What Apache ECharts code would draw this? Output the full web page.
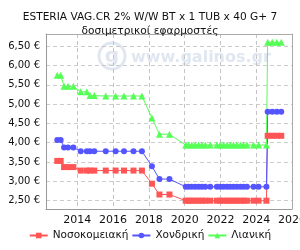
<!DOCTYPE html>
<html><head><meta charset="utf-8">
<script src="https://cdn.jsdelivr.net/npm/echarts@6/dist/echarts.min.js"></script>
<style>html,body{margin:0;padding:0;background:#fff}#c{width:300px;height:250px}</style>
</head><body><div id="c"></div>
<script>
const titleLines = ["ESTERIA VAG.CR 2% W/W BT x 1 TUB x 40 G+ 7", "δοσιμετρικοί εφαρμοστές"];
const seriesNames = ["Νοσοκομειακή", "Χονδρική", "Λιανική"];
const dates = [2012.88, 2013.07, 2013.26, 2013.48, 2013.78, 2014.19, 2014.53, 2014.71, 2014.95, 2015.59,
  2016.14, 2016.61, 2017.14, 2017.61, 2018.17, 2018.59, 2019.15,
  2020.06, 2020.22, 2020.40, 2020.59, 2020.78, 2020.96, 2021.15, 2021.43, 2021.80, 2021.99,
  2022.17, 2022.37, 2022.55, 2022.73, 2022.92, 2023.11, 2023.29, 2023.48, 2023.85, 2024.13, 2024.57,
  2024.64, 2024.90, 2025.15, 2025.40];
const hospital = [3.53, 3.53, 3.37, 3.37, 3.37, 3.28, 3.28, 3.28, 3.28, 3.28,
  3.28, 3.28, 3.28, 3.28, 2.94, 2.66, 2.66,
  2.50, 2.50, 2.50, 2.50, 2.50, 2.50, 2.50, 2.50, 2.50, 2.50,
  2.50, 2.50, 2.50, 2.50, 2.50, 2.50, 2.50, 2.50, 2.50, 2.50, 2.50,
  4.18, 4.18, 4.18, 4.18];
const wholesale = [4.07, 4.07, 3.88, 3.88, 3.88, 3.78, 3.78, 3.78, 3.78, 3.78,
  3.78, 3.78, 3.78, 3.78, 3.39, 3.06, 3.06,
  2.86, 2.86, 2.86, 2.86, 2.86, 2.86, 2.86, 2.86, 2.86, 2.86,
  2.86, 2.86, 2.86, 2.86, 2.86, 2.86, 2.86, 2.86, 2.86, 2.86, 2.86,
  4.80, 4.80, 4.80, 4.80];
const retail = [5.75, 5.75, 5.46, 5.46, 5.46, 5.32, 5.32, 5.22, 5.22, 5.21,
  5.21, 5.21, 5.21, 5.21, 4.64, 4.22, 4.22,
  3.94, 3.94, 3.94, 3.94, 3.94, 3.94, 3.94, 3.94, 3.94, 3.94,
  3.94, 3.94, 3.94, 3.94, 3.94, 3.94, 3.94, 3.94, 3.94, 3.94, 3.94,
  6.60, 6.60, 6.60, 6.60];

const colors = ['#ff5555', '#5555ff', '#55ff55'];
const symbols = ['rect', 'circle', 'triangle'];
const sizes = [6, 6, 7];
const values = [hospital, wholesale, retail];

const xMin = 2012.25, xMax = 2026, yMin = 2.285, yMax = 6.815;
const font = 'DejaVu Sans';
const borderAxis = {axisLine: {show: true, onZero: false, lineStyle: {color: '#aaa'}}, axisTick: {show: false},
  axisLabel: {show: false}, splitLine: {show: false}};

const chart = echarts.init(document.getElementById('c'), null, {renderer: 'canvas'});
chart.setOption({
  animation: false,
  backgroundColor: '#fff',
  title: {
    text: titleLines.join('\n'), left: 'center', top: 5,
    textStyle: {fontFamily: font, fontSize: 10.6, fontWeight: 'normal', color: '#111', lineHeight: 14}
  },
  grid: {left: 46, right: 8, top: 34, bottom: 41, show: false, containLabel: false, outerBoundsMode: 'none'},
  graphic: [
    {type: 'circle', shape: {cx: 112, cy: 56, r: 13}, style: {fill: 'none', stroke: '#e0e7f1', lineWidth: 3}, z: -1},
    {type: 'text', style: {x: 112, y: 57, text: 'g', fill: '#e0e7f1', font: 'bold 20px DejaVu Sans', align: 'center', verticalAlign: 'middle'}, z: -1},
    {type: 'text', style: {x: 131, y: 58, text: 'www.galinos.gr', fill: '#e0e7f1', font: 'bold 16px DejaVu Sans', verticalAlign: 'middle'}, z: -1}
  ],
  legend: {
    bottom: 4, left: 'center', itemWidth: 18, itemHeight: 7, itemGap: 3,
    textStyle: {fontFamily: font, fontSize: 10.5, color: '#111'},
    data: seriesNames
  },
  xAxis: [{
    type: 'value', min: xMin, max: xMax, splitNumber: 7, position: 'bottom',
    axisLine: {show: true, onZero: false, lineStyle: {color: '#999'}},
    axisTick: {show: false},
    axisLabel: {fontFamily: font, fontSize: 11, color: '#111', showMinLabel: false, margin: 6,
      formatter: v => Number.isInteger(v) ? String(v) : ''},
    splitLine: {show: true, lineStyle: {color: '#c4c4c4', width: 1, type: [4, 3], opacity: 1}}
  }, Object.assign({type: 'value', min: xMin, max: xMax, position: 'top'}, borderAxis)],
  yAxis: [{
    type: 'value', min: yMin, max: yMax, splitNumber: 9, position: 'left',
    axisLine: {show: true, onZero: false, lineStyle: {color: '#999'}},
    axisTick: {show: false},
    axisLabel: {fontFamily: font, fontSize: 10, color: '#111', showMinLabel: false, showMaxLabel: false, margin: 6,
      formatter: v => (Math.abs(v * 2 - Math.round(v * 2)) < 1e-6) ? v.toFixed(2).replace('.', ',') + ' €' : ''},
    splitLine: {show: true, lineStyle: {color: '#cccccc', width: 1, type: [4, 3], opacity: 1}}
  }, Object.assign({type: 'value', min: yMin, max: yMax, position: 'right'}, borderAxis)],
  series: seriesNames.map((n, i) => ({
    name: n, type: 'line', symbol: symbols[i], symbolSize: sizes[i],
    itemStyle: {color: colors[i]}, lineStyle: {color: colors[i], width: 1},
    data: dates.map((d, k) => [d, values[i][k]])
  }))
});
</script></body></html>
